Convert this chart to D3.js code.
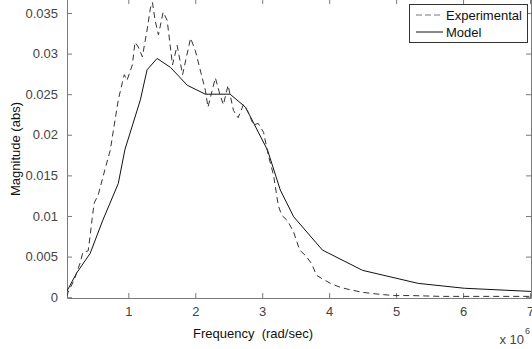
<!DOCTYPE html>
<html>
<head>
<meta charset="utf-8">
<script src="https://cdn.jsdelivr.net/npm/d3@7"></script>
<style>
	body { margin: 0; background: #fff; }
	svg { display: block; font-family: "Liberation Sans", Arial, sans-serif; }
</style>
</head>
<body>
<svg id="chart" width="532" height="349"></svg>
<script>
// frequency in units of 1e6 rad/sec
var expFreq = [0.08, 0.10, 0.19, 0.28, 0.32, 0.40, 0.43, 0.46, 0.49, 0.55, 0.65, 0.73, 0.85, 0.91, 0.94, 0.98,
	1.06, 1.10, 1.15, 1.21, 1.28, 1.33, 1.36, 1.40, 1.45, 1.52, 1.58, 1.66, 1.73, 1.81, 1.93, 2.00,
	2.15, 2.19, 2.30, 2.37, 2.42, 2.49, 2.57, 2.64, 2.72, 2.79, 2.87, 2.94, 3.02, 3.09, 3.17, 3.24,
	3.29, 3.38, 3.47, 3.56, 3.65, 3.74, 3.81, 3.89, 4.02, 4.17, 4.32, 4.50, 4.70, 4.97, 5.22, 5.67, 6.27, 7.04];
var expMag = [0.0001, 0.0006, 0.0021, 0.0042, 0.0055, 0.0057, 0.0076, 0.0097, 0.0116, 0.0126, 0.0157, 0.0181, 0.0243, 0.0264, 0.0274, 0.0267,
	0.0286, 0.0314, 0.0308, 0.0296, 0.0329, 0.0356, 0.0363, 0.0341, 0.0323, 0.0351, 0.0341, 0.0286, 0.0310, 0.0274, 0.0319, 0.0304,
	0.0255, 0.0234, 0.0270, 0.0249, 0.0237, 0.0261, 0.0230, 0.0221, 0.0237, 0.0228, 0.0212, 0.0214, 0.0203, 0.0175, 0.0150, 0.0113,
	0.0101, 0.0094, 0.0080, 0.0058, 0.0051, 0.0041, 0.0027, 0.0023, 0.0017, 0.0012, 0.0009, 0.0006, 0.0004, 0.0002, 0.0002, 0.0001, 0.0001, 0.0001];

var modelFreq = [0.08, 0.23, 0.43, 0.62, 0.85, 0.95, 1.18, 1.28, 1.43, 1.63, 1.88, 2.15, 2.52, 2.75, 3.08, 3.27, 3.47, 3.90, 4.50, 5.33, 6.02, 7.04];
var modelMag = [0.0007, 0.0030, 0.0054, 0.0095, 0.0140, 0.0182, 0.0243, 0.0280, 0.0294, 0.0283, 0.0261, 0.0250, 0.0250, 0.0234, 0.0181, 0.0132, 0.0099, 0.0058, 0.0033, 0.0017, 0.0011, 0.0007];

var xTicks = [1, 2, 3, 4, 5, 6, 7];
var yTicks = [0, 0.005, 0.01, 0.015, 0.02, 0.025, 0.03, 0.035];
var yTickLabels = ['0', '0.005', '0.01', '0.015', '0.02', '0.025', '0.03', '0.035'];
var seriesNames = ['Experimental', 'Model'];

var svg = d3.select('#chart');
var plotLeft = 67, plotRight = 531, plotTop = -1, plotBottom = 298;
var axisColor = '#7a7a7a', textColor = '#444';

var x = d3.scaleLinear().domain([0.084, 7.015]).range([plotLeft, plotRight]);
var y = d3.scaleLinear().domain([-0.0001, 0.03672]).range([plotBottom, plotTop]);

svg.append('defs').append('clipPath').attr('id', 'plotClip')
	.append('rect').attr('x', plotLeft).attr('y', plotTop)
	.attr('width', plotRight - plotLeft).attr('height', plotBottom - plotTop);

// axes, matlab style: ticks inside, mirrored on top and right
var tickFmt = function(d, i) { return yTickLabels[i]; };
var styleAxis = function(g) {
	g.select('.domain').attr('stroke', axisColor);
	g.selectAll('.tick line').attr('stroke', axisColor);
	g.selectAll('.tick text').attr('fill', textColor).attr('font-size', 13).attr('font-family', null);
	g.attr('font-family', null);
};

svg.append('g').attr('transform', 'translate(0,' + plotBottom + ')')
	.call(d3.axisBottom(x).tickValues(xTicks).tickSizeInner(-5).tickSizeOuter(0).tickPadding(9).tickFormat(d3.format('d')))
	.call(styleAxis);
svg.append('g').attr('transform', 'translate(0,' + plotTop + ')')
	.call(d3.axisTop(x).tickValues(xTicks).tickSizeInner(-5).tickSizeOuter(0).tickFormat(''))
	.call(styleAxis);
svg.append('g').attr('transform', 'translate(' + plotLeft + ',0)')
	.call(d3.axisLeft(y).tickValues(yTicks).tickSizeInner(-5).tickSizeOuter(0).tickPadding(9).tickFormat(tickFmt))
	.call(styleAxis);
svg.append('g').attr('transform', 'translate(' + plotRight + ',0)')
	.call(d3.axisRight(y).tickValues(yTicks).tickSizeInner(-5).tickSizeOuter(0).tickFormat(''))
	.call(styleAxis);

var line = d3.line().x(function(d) { return x(d[0]); }).y(function(d) { return y(d[1]); });

var plot = svg.append('g').attr('clip-path', 'url(#plotClip)');
plot.append('path')
	.datum(d3.zip(modelFreq, modelMag))
	.attr('d', line).attr('fill', 'none').attr('stroke', '#111').attr('stroke-width', 1);
plot.append('path')
	.datum(d3.zip(expFreq, expMag))
	.attr('d', line).attr('fill', 'none').attr('stroke', '#333').attr('stroke-width', 1)
	.attr('stroke-dasharray', '6,4');

// labels
svg.append('text').attr('x', 253).attr('y', 338).attr('text-anchor', 'middle')
	.attr('font-size', 13).attr('fill', '#111').attr('xml:space', 'preserve')
	.text('Frequency  (rad/sec)');
svg.append('text').attr('transform', 'translate(20,149) rotate(-90)').attr('text-anchor', 'middle')
	.attr('font-size', 13).attr('fill', '#111').text('Magnitude (abs)');

svg.append('text').attr('x', 524).attr('y', 344).attr('text-anchor', 'end')
	.attr('font-size', 13).attr('fill', textColor).text('x 10');
svg.append('text').attr('x', 525).attr('y', 334).attr('font-size', 9).attr('fill', textColor).text('6');

// legend
var legend = svg.append('g');
legend.append('rect').attr('x', 409.5).attr('y', 4.5).attr('width', 118).attr('height', 38)
	.attr('fill', '#fff').attr('stroke', '#333');
var rows = legend.selectAll('.row').data(seriesNames).enter().append('g')
	.attr('transform', function(d, i) { return 'translate(0,' + (15 + i * 17) + ')'; });
rows.append('line').attr('x1', 416).attr('x2', 443).attr('y1', 0).attr('y2', 0)
	.attr('stroke', function(d, i) { return i === 0 ? '#777' : '#111'; })
	.attr('stroke-dasharray', function(d, i) { return i === 0 ? '6,3' : null; });
rows.append('text').attr('x', 446).attr('y', 4.5).attr('font-size', 13).attr('fill', '#111')
	.text(function(d) { return d; });
</script>
</body>
</html>
